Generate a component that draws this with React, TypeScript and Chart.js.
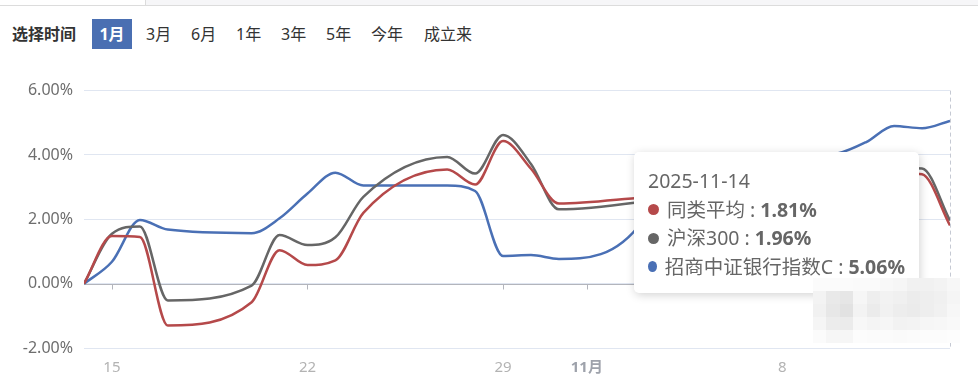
import React, { useEffect, useRef } from 'react';
import { Chart, registerables } from 'chart.js';

Chart.register(...registerables);

// ---------- data ----------
const dates = [
  '2025-10-14', '2025-10-15', '2025-10-16', '2025-10-17', '2025-10-20', '2025-10-21',
  '2025-10-22', '2025-10-23', '2025-10-24', '2025-10-27', '2025-10-28', '2025-10-29',
  '2025-10-30', '2025-10-31', '2025-11-03', '2025-11-04', '2025-11-05', '2025-11-06',
  '2025-11-07', '2025-11-10', '2025-11-11', '2025-11-12', '2025-11-13', '2025-11-14',
];
const peerAvg = [
  0, 1.48, 1.45, -1.3, -0.58, 1.04, 0.58, 0.72, 2.2, 3.55, 3.08, 4.43,
  3.57, 2.49, 2.68, 2.75, 2.9, 3.05, 3.0, 3.2, 3.3, 3.45, 3.4, 1.81,
];
const csi300 = [
  0, 1.55, 1.78, -0.52, -0.06, 1.51, 1.2, 1.44, 2.7, 3.94, 3.42, 4.62,
  3.72, 2.31, 2.55, 2.7, 2.9, 3.1, 3.1, 3.3, 3.45, 3.6, 3.58, 1.96,
];
const fundC = [
  0, 0.68, 1.98, 1.68, 1.57, 2.03, 2.8, 3.45, 3.05, 3.05, 2.88, 0.86,
  0.89, 0.77, 1.95, 3.95, 4.02, 3.8, 3.85, 4.05, 4.4, 4.9, 4.83, 5.06,
];
const seriesNames = ['同类平均', '沪深300', '招商中证银行指数C'];
const seriesColors = ['#b5494a', '#666666', '#4a70b5'];
const xTickDates = ['2025-10-15', '2025-10-22', '2025-10-29', '2025-11-01', '2025-11-08'];
const xTickLabels = ['15', '22', '29', '11月', '8'];
const yTickValues = [-2, 0, 2, 4, 6];
const timeButtons = ['1月', '3月', '6月', '1年', '3年', '5年', '今年', '成立来'];
const selectLabel = '选择时间';

const mosaicShades = [
  ['fb', 'fb', 'fb', 'fa', 'fa', 'f8', 'f6', 'f1', 'f1', 'f3', 'f7'],
  ['f3', 'e9', 'e6', 'f6', 'ee', 'f2', 'f0', 'ec', 'ee', 'f0', 'f5'],
  ['f1', 'e7', 'e2', 'f3', 'eb', 'f1', 'ed', 'eb', 'ee', 'f1', 'f7'],
  ['f5', 'ec', 'eb', 'f7', 'f4', 'f6', 'f2', 'f3', 'f6', 'f7', 'f9'],
  ['fb', 'f6', 'f6', 'fc', 'fb', 'fb', 'fa', 'fb', 'fc', 'fc', 'fd'],
];

const FONT = '"Noto Sans", "Noto Sans CJK SC", sans-serif';

const dayOffset = (d: string) => (Date.parse(d) - Date.parse(dates[0])) / 86400000;
const xTickValues = xTickDates.map(dayOffset);

const buttonX = [92, 146, 191, 236, 281, 326, 371, 424];

export default function App() {
  const canvasRef = useRef<HTMLCanvasElement | null>(null);

  useEffect(() => {
    if (!canvasRef.current) return;
    const allSeries = [peerAvg, csi300, fundC];
    const overlay = {
      id: 'overlay',
      beforeDatasetsDraw(chart: any) {
        const { ctx, chartArea, scales } = chart;
        const y0 = scales.y.getPixelForValue(0);
        ctx.save();
        ctx.strokeStyle = '#b3b5bc';
        ctx.lineWidth = 1;
        ctx.beginPath();
        ctx.moveTo(chartArea.left, Math.round(y0) + 0.5);
        ctx.lineTo(chartArea.right, Math.round(y0) + 0.5);
        xTickValues.forEach((v) => {
          const px = Math.round(scales.x.getPixelForValue(v)) + 0.5;
          ctx.moveTo(px, Math.round(y0) + 0.5);
          ctx.lineTo(px, Math.round(y0) + 5.5);
        });
        ctx.stroke();
        const xr = Math.round(scales.x.getPixelForValue(dayOffset(dates[dates.length - 1]))) + 0.5;
        ctx.strokeStyle = '#c5c9d3';
        ctx.setLineDash([4, 3]);
        ctx.beginPath();
        ctx.moveTo(xr, chartArea.top);
        ctx.lineTo(xr, chartArea.bottom);
        ctx.stroke();
        ctx.restore();
      },
    };

    const chart = new Chart(canvasRef.current, {
      type: 'line',
      data: {
        datasets: allSeries.map((s, i) => ({
          label: seriesNames[i],
          data: s.map((v, j) => ({ x: dayOffset(dates[j]), y: v })),
          borderColor: seriesColors[i],
          backgroundColor: seriesColors[i],
          borderWidth: 2.5,
          pointRadius: 0,
          cubicInterpolationMode: 'monotone',
          fill: false,
        })),
      },
      options: {
        responsive: false,
        animation: false,
        devicePixelRatio: 1,
        layout: { padding: { top: 16, right: 28, left: 0, bottom: 0 } },
        plugins: { legend: { display: false }, tooltip: { enabled: false } },
        scales: {
          x: {
            type: 'linear',
            min: 0,
            max: dayOffset(dates[dates.length - 1]),
            grid: { display: false, drawTicks: false },
            border: { display: false },
            afterBuildTicks: (s: any) => {
              s.ticks = xTickValues.map((v) => ({ value: v }));
            },
            afterFit: (s: any) => {
              s.height = 36;
            },
            ticks: {
              padding: 11,
              autoSkip: false,
              maxRotation: 0,
              callback: (v: any) => {
                const i = xTickValues.indexOf(Number(v));
                return i >= 0 ? xTickLabels[i] : '';
              },
              color: (c: any) => (c.index === 3 ? '#9ea2ab' : '#b3b3b3'),
              font: (c: any) => ({
                family: FONT,
                size: 15,
                weight: c.index === 3 ? 'bold' : 'normal',
              }),
            },
          },
          y: {
            min: -2,
            max: 6,
            afterBuildTicks: (s: any) => {
              s.ticks = yTickValues.map((v) => ({ value: v }));
            },
            afterFit: (s: any) => {
              s.width = 84;
            },
            grid: { color: '#e0e6f1', drawTicks: false },
            border: { display: false },
            ticks: {
              padding: 11,
              color: '#6e6e6e',
              font: { family: FONT, size: 16 },
              callback: (v: any) => Number(v).toFixed(2) + '%',
            },
          },
        },
      },
      plugins: [overlay],
    } as any);
    return () => chart.destroy();
  }, []);

  const last = dates.length - 1;
  const tipValues = [peerAvg[last], csi300[last], fundC[last]];

  return (
    <div
      style={{
        position: 'absolute',
        left: 0,
        top: 0,
        width: 978,
        height: 384,
        background: '#fff',
        overflow: 'hidden',
        fontFamily: FONT,
      }}
    >
      <div
        style={{
          position: 'absolute',
          left: 0,
          top: 0,
          width: 978,
          height: 5,
          borderBottom: '1px solid #dcdcdc',
        }}
      />
      <div
        style={{
          position: 'absolute',
          left: 145,
          top: 0,
          width: 833,
          height: 5,
          background: '#f6f6f8',
          borderLeft: '1px solid #dcdcdc',
        }}
      />
      <div
        style={{
          position: 'absolute',
          left: 12,
          top: 20,
          height: 28,
          lineHeight: '28px',
          fontSize: 16,
          fontWeight: 'bold',
          color: '#333',
        }}
      >
        {selectLabel}
      </div>
      {timeButtons.map((b, i) =>
        i === 0 ? (
          <div
            key={b}
            style={{
              position: 'absolute',
              left: buttonX[i],
              top: 19,
              width: 40,
              height: 30,
              lineHeight: '30px',
              textAlign: 'center',
              background: '#4a6fb2',
              color: '#fff',
              fontWeight: 'bold',
              fontSize: 16,
            }}
          >
            {b}
          </div>
        ) : (
          <div
            key={b}
            style={{
              position: 'absolute',
              left: buttonX[i],
              top: 19,
              height: 30,
              lineHeight: '30px',
              color: '#333',
              fontSize: 16,
              whiteSpace: 'nowrap',
            }}
          >
            {b}
          </div>
        )
      )}
      <div style={{ position: 'absolute', left: 0, top: 70, width: 978, height: 314 }}>
        <canvas ref={canvasRef} width={978} height={314} style={{ display: 'block' }} />
      </div>
      <div
        style={{
          position: 'absolute',
          left: 634,
          top: 152,
          width: 285,
          height: 141,
          boxSizing: 'border-box',
          padding: '15px 14px',
          background: '#fff',
          borderRadius: 5,
          boxShadow: '1px 2px 10px rgba(0,0,0,0.18)',
          color: '#666',
          fontSize: 19.5,
          lineHeight: '28.5px',
          whiteSpace: 'nowrap',
        }}
      >
        <div>{dates[last]}</div>
        {seriesNames.map((n, i) => (
          <div key={n} style={{ display: 'flex', alignItems: 'center' }}>
            <span
              style={{
                display: 'inline-block',
                width: 11,
                height: 11,
                borderRadius: '50%',
                background: seriesColors[i],
                marginRight: 8,
              }}
            />
            <span>{n} : </span>
            <span style={{ fontWeight: 'bold', marginLeft: 5 }}>{tipValues[i].toFixed(2)}%</span>
          </div>
        ))}
      </div>
      <div style={{ position: 'absolute', left: 813, top: 278 }}>
        {mosaicShades.map((row, r) =>
          row.map((c, k) => (
            <div
              key={r + '-' + k}
              style={{
                position: 'absolute',
                left: k * 13.4,
                top: r * 13,
                width: 13.4,
                height: 13,
                background: '#' + c + c + c,
              }}
            />
          ))
        )}
      </div>
    </div>
  );
}
